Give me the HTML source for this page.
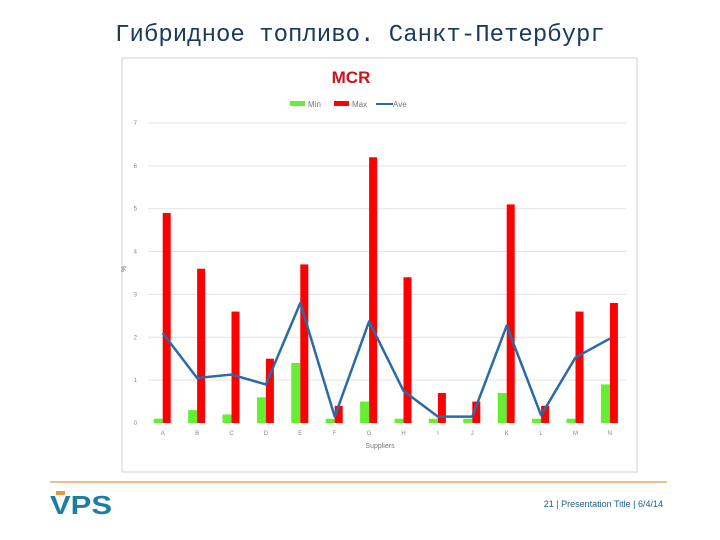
<!DOCTYPE html>
<html><head><meta charset="utf-8"><style>
body{margin:0;width:720px;height:540px;background:#fff;overflow:hidden;position:relative;font-family:"Liberation Sans",sans-serif}
.t{position:absolute;left:0;width:720px;top:22px;text-align:center;font-family:"Liberation Mono","DejaVu Sans Mono",monospace;font-size:24px;color:#1a3a5e}
</style></head><body>
<div class="t">Гибридное топливо. Санкт-Петербург</div>
<svg width="720" height="540" style="position:absolute;left:0;top:0">
<rect x="122" y="58" width="515" height="414" fill="#fff" stroke="#d0d0d0"/>
<text x="351" y="83" text-anchor="middle" font-size="17" font-weight="bold" fill="#d0101a">MCR</text>
<g font-size="8" fill="#777">
<rect x="290" y="101" width="15" height="5" fill="#66ee33"/><text x="308" y="107">Min</text>
<rect x="334" y="101" width="15" height="5" fill="#ff0000"/><text x="352" y="107">Max</text>
<line x1="376" y1="104" x2="393" y2="104" stroke="#2a6aa8" stroke-width="2"/><text x="393" y="107">Ave</text>
</g>
<g id="grid"></g><g id="bars"></g><g id="line"></g><g id="labels" font-size="6" fill="#888"></g>
<text x="380" y="448" text-anchor="middle" font-size="7" fill="#777">Suppliers</text>
<text x="126" y="272" font-size="7" fill="#777" transform="rotate(-90 126 272)">%</text>
<line x1="50" y1="482" x2="667" y2="482" stroke="#e09a40" stroke-width="1.2"/>
<text x="50" y="514" font-size="26" font-weight="bold" fill="#1a7fa0" font-family="Liberation Sans" textLength="62" lengthAdjust="spacingAndGlyphs">VPS</text>
<rect x="56" y="491" width="9" height="4" fill="#e09a40"/>
<text x="663" y="507" text-anchor="end" font-size="9" fill="#1a5f8a">21 | Presentation Title | 6/4/14</text>
</svg>
<script>
const categories=["A","B","C","D","E","F","G","H","I","J","K","L","M","N"];
const minVals=[0.1,0.3,0.2,0.6,1.4,0.1,0.5,0.1,0.1,0.1,0.7,0.1,0.1,0.9];
const maxVals=[4.9,3.6,2.6,1.5,3.7,0.4,6.2,3.4,0.7,0.5,5.1,0.4,2.6,2.8];
const aveVals=[2.1,1.05,1.13,0.9,2.8,0.15,2.37,0.75,0.15,0.15,2.27,0.18,1.53,1.97];
const yTicks=[0,1,2,3,4,5,6,7];
const NS="http://www.w3.org/2000/svg";
const x0=145.5,band=34.4,y0=423,ppu=42.86;
const xc=i=>x0+band*(i+0.5), y=v=>y0-v*ppu;
function mk(t,a,p){const e=document.createElementNS(NS,t);for(const k in a)e.setAttribute(k,a[k]);document.getElementById(p).appendChild(e);return e;}
yTicks.forEach(v=>{
 if(v>0){const g=mk('line',{x1:148,x2:626,y1:y(v),y2:y(v),stroke:'#e3e3e3'},'grid');
 
 }
 const t=mk('text',{x:137,y:y(v)+2,'text-anchor':'end'},'labels');t.textContent=v;
 
 
});
categories.forEach((c,i)=>{
 const g=mk('rect',{x:xc(i)-9,y:y(minVals[i]),width:9,height:minVals[i]*ppu,fill:'#66ee33'},'bars');
 
 
 const r=mk('rect',{x:xc(i),y:y(maxVals[i]),width:8,height:maxVals[i]*ppu,fill:'#ff0000'},'bars');
 
 
 const t=mk('text',{x:xc(i),y:435,'text-anchor':'middle'},'labels');t.textContent=c;
 
 
});
const pl=mk('polyline',{points:aveVals.map((v,i)=>xc(i)+','+y(v)).join(' '),fill:'none',stroke:'#2a6aa8','stroke-width':2.5,'stroke-linejoin':'round'},'line');


</script>
</body></html>
